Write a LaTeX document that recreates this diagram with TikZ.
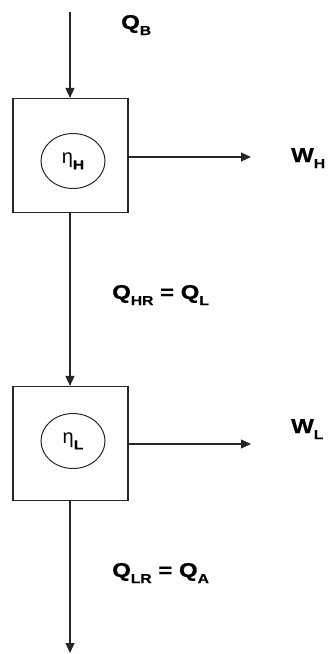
\documentclass[tikz,border=0pt]{standalone}
\usepackage{fontspec}
\setmainfont{Liberation Sans}
\newfontfamily\widefont[FakeStretch=1.2,FakeBold=0.6]{Liberation Sans Bold}
\usetikzlibrary{arrows.meta,shapes.geometric}
\newcommand{\lowsub}[1]{\raisebox{-0.3em}{\fontsize{13}{13}\selectfont\widefont #1}}
\tikzset{
  flow/.style={draw=black!85, line width=1.1pt, -{Triangle[width=9pt,length=10pt]}},
  engine/.style={draw=black!85, line width=1.2pt, minimum width=115pt, minimum height=114pt, inner sep=0pt},
  eff/.style={draw=black!85, line width=1pt, ellipse, minimum width=64pt, minimum height=55pt, inner sep=0pt, font=\fontsize{20}{20}\selectfont},
  lab/.style={anchor=base west, inner sep=0pt, font=\fontsize{20}{20}\selectfont\widefont},
}
\begin{document}
\begin{tikzpicture}[x=1pt,y=-1pt]
\useasboundingbox (0,0) rectangle (328,654);
% engines
\node[engine] (bh) at (70.5,155.5) {};
\node[engine] (bl) at (70.5,443.5) {};
\node[eff] (eh) at (73,161) {η\lowsub{H}};
\node[eff] (el) at (73,441) {η\lowsub{L}};
% free ends
\coordinate (top) at (70,12);
\coordinate (bot) at (70,653);
\coordinate (wh) at (251,157);
\coordinate (wl) at (251,444);
% connectors
\draw[flow] (top) -- (top |- bh.north);
\draw[flow] (bh.south -| top) -- (bl.north -| top);
\draw[flow] (bl.south -| bot) -- (bot);
\draw[flow] (bh.east |- wh) -- (wh);
\draw[flow] (bl.east |- wl) -- (wl);
% labels
\node[lab] (qb) at (121,29) {Q\lowsub{B}};
\node[lab] (qhr) at (112,299) {Q\lowsub{HR} = Q\lowsub{L}};
\node[lab] (qlr) at (112,577) {Q\lowsub{LR} = Q\lowsub{A}};
\node[lab] (whl) at (291,162) {W\lowsub{H}};
\node[lab] (wll) at (291,433) {W\lowsub{L}};
\end{tikzpicture}
\end{document}
